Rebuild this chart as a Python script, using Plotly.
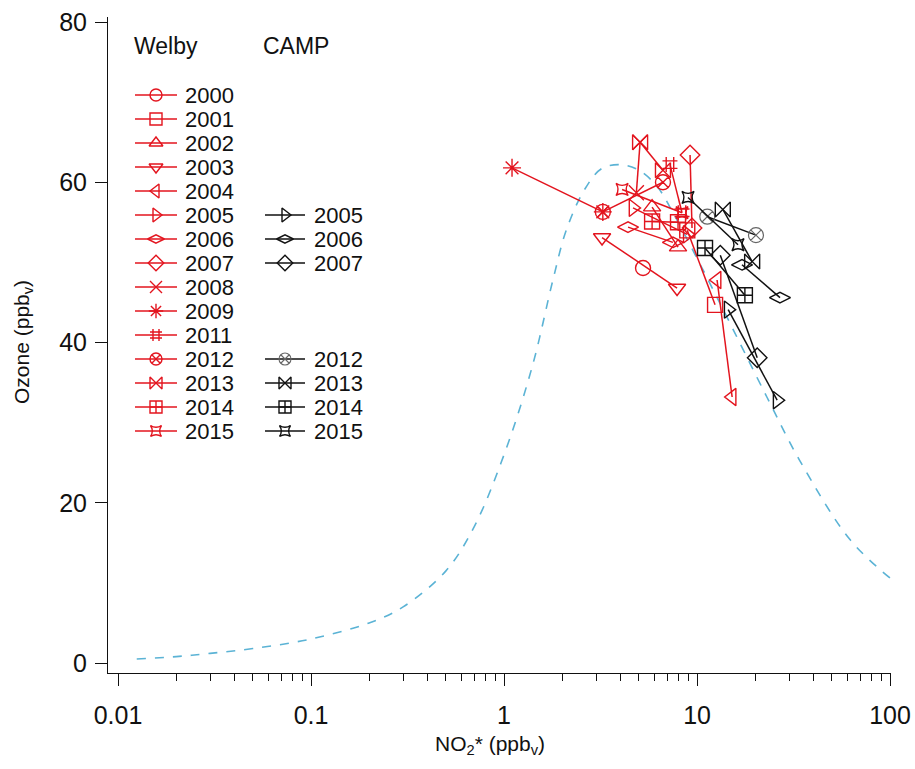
import plotly.graph_objects as go

# ---------------- data ----------------
# model curve (dashed blue)
curve_x = [0.0125, 0.02, 0.03, 0.05, 0.1, 0.2, 0.3, 0.5, 0.7, 1.0, 1.4, 1.8, 2.1, 2.6, 3.2, 4.0,
           5.0, 6.2, 7.2, 10.0, 13.6, 23.0, 34.0, 62.0, 100.0]
curve_y = [0.5, 0.8, 1.2, 1.8, 3.0, 5.0, 7.0, 11.5, 17.0, 26.0, 37.0, 48.0, 54.0, 59.0, 61.7, 62.2,
           61.5, 59.5, 57.0, 50.5, 44.2, 33.2, 25.3, 15.4, 10.6]

# Welby (red)
welby_years = ["2000", "2001", "2002", "2003", "2004", "2005", "2006", "2007",
               "2008", "2009", "2011", "2012", "2013", "2014", "2015"]
welby_symbols = ["circle-open", "square-open", "triangle-up-open", "triangle-down-open",
                 "triangle-left-open", "triangle-right-open", "diamond-wide-open", "diamond-open",
                 "x-thin-open", "asterisk-open", "hash-open", "circle-x-open", "bowtie-open",
                 "square-cross-open", "star-square-open"]
welby_no2 = [[5.25], [8.9, 12.4], [5.85, 7.97], [3.22, 7.88], [12.7, 15.2], [4.66, 8.9],
             [4.39, 7.5], [9.2, 9.42], [4.85, 5.07], [1.10, 3.25], [7.24, 8.36], [3.25, 6.66],
             [5.07, 6.66], [5.85, 7.97], [4.09, 8.36]]
welby_o3 = [[49.3], [54.0, 44.7], [56.9, 51.9], [53.1, 46.8], [47.8, 33.2], [56.8, 53.5],
            [54.4, 52.5], [63.4, 54.3], [58.7, 65.0], [61.8, 56.3], [62.2, 56.2], [56.3, 60.0],
            [65.0, 61.5], [55.1, 55.0], [59.1, 56.2]]

# CAMP (black)
camp_years = ["2005", "2006", "2007", "2012", "2013", "2014", "2015"]
camp_symbols = ["triangle-right-open", "diamond-wide-open", "diamond-open", "circle-x-open",
                "bowtie-open", "square-cross-open", "star-square-open"]
camp_no2 = [[14.5, 26.0], [17.1, 26.9], [13.2, 20.5], [11.3, 20.2], [13.6, 19.3], [11.0, 17.7],
            [8.98, 16.3]]
camp_o3 = [[44.1, 32.8], [49.7, 45.6], [50.9, 38.1], [55.7, 53.4], [56.6, 50.1], [51.8, 45.9],
           [58.1, 52.2]]

x_tick_vals = [0.01, 0.1, 1, 10, 100]
x_tick_text = ["0.01", "0.1", "1", "10", "100"]
y_tick_vals = [0, 20, 40, 60, 80]

# ---------------- style ----------------
RED = "#e3141e"
BLACK = "#111111"
GRAY = "#666666"
BLUE = "#5bb3d5"
FONT = "Arial, Liberation Sans, sans-serif"

# plot area in pixels
L, R, T, B = 108, 891, 17, 673
W, H = 915, 769
X_LO, X_HI = -2.052, 2.005


def msize(sym, big):
    if sym == "star-square-open":
        return 11 if big else 10
    return 15 if big else 12


fig = go.Figure()

fig.add_trace(go.Scatter(x=curve_x, y=curve_y, mode="lines",
                         line=dict(color=BLUE, width=1.6, dash="dash"),
                         line_shape="spline", showlegend=False, hoverinfo="skip"))

for yr, sym, xs, ys in zip(welby_years, welby_symbols, welby_no2, welby_o3):
    fig.add_trace(go.Scatter(x=xs, y=ys, mode="lines+markers", name="Welby " + yr,
                             line=dict(color=RED, width=1.5),
                             marker=dict(symbol=sym, size=msize(sym, True), color=RED,
                                         line=dict(color=RED, width=1.4)),
                             showlegend=False))

for yr, sym, xs, ys in zip(camp_years, camp_symbols, camp_no2, camp_o3):
    mc = GRAY if yr == "2012" else BLACK
    fig.add_trace(go.Scatter(x=xs, y=ys, mode="lines+markers", name="CAMP " + yr,
                             line=dict(color=BLACK, width=1.5),
                             marker=dict(symbol=sym, size=msize(sym, True), color=mc,
                                         line=dict(color=mc, width=1.2 if yr == "2012" else 1.4)),
                             showlegend=False))

# ---------------- hand-made legend (pixel overlay axes) ----------------
row0, row_step = 95, 24.0
wx0, wx1, wtx = 135, 177, 183
cx0, cx1, ctx = 265, 305, 312
LEG_FONT = 22

annotations = []
for i, (yr, sym) in enumerate(zip(welby_years, welby_symbols)):
    yy = row0 + row_step * i
    fig.add_trace(go.Scatter(x=[wx0, wx1], y=[yy, yy], mode="lines", xaxis="x2", yaxis="y2",
                             line=dict(color=RED, width=1.5), showlegend=False, hoverinfo="skip"))
    fig.add_trace(go.Scatter(x=[(wx0 + wx1) / 2], y=[yy], mode="markers", xaxis="x2", yaxis="y2",
                             marker=dict(symbol=sym, size=msize(sym, False), color=RED,
                                         line=dict(color=RED, width=1.4)),
                             showlegend=False, hoverinfo="skip"))
    annotations.append(dict(x=wtx, y=yy, xref="x2", yref="y2", text=yr, showarrow=False,
                            xanchor="left", yanchor="middle",
                            font=dict(size=LEG_FONT, color=BLACK, family=FONT)))
    if yr in camp_years:
        j = camp_years.index(yr)
        mc = GRAY if yr == "2012" else BLACK
        fig.add_trace(go.Scatter(x=[cx0, cx1], y=[yy, yy], mode="lines", xaxis="x2", yaxis="y2",
                                 line=dict(color=BLACK, width=1.5), showlegend=False, hoverinfo="skip"))
        fig.add_trace(go.Scatter(x=[(cx0 + cx1) / 2], y=[yy], mode="markers", xaxis="x2", yaxis="y2",
                                 marker=dict(symbol=camp_symbols[j], size=msize(camp_symbols[j], False),
                                             color=mc, line=dict(color=mc, width=1.1 if yr == "2012" else 1.4)),
                                 showlegend=False, hoverinfo="skip"))
        annotations.append(dict(x=ctx, y=yy, xref="x2", yref="y2", text=yr, showarrow=False,
                                xanchor="left", yanchor="middle",
                                font=dict(size=LEG_FONT, color=BLACK, family=FONT)))

annotations.append(dict(x=132, y=46, xref="x2", yref="y2", text="Welby", showarrow=False,
                        xanchor="left", yanchor="middle", font=dict(size=23, color=BLACK, family=FONT)))
annotations.append(dict(x=261, y=46, xref="x2", yref="y2", text="CAMP", showarrow=False,
                        xanchor="left", yanchor="middle", font=dict(size=23, color=BLACK, family=FONT)))

# axis titles
pw, ph = R - L, B - T
annotations.append(dict(x=(490 - L) / pw, y=(B - 745) / ph, xref="paper", yref="paper",
                        text="NO<sub>2</sub>* (ppb<sub>v</sub>)", showarrow=False,
                        xanchor="center", yanchor="middle", font=dict(size=21, color=BLACK, family=FONT)))
annotations.append(dict(x=(23 - L) / pw, y=(B - 342) / ph, xref="paper", yref="paper",
                        text="Ozone (ppb<sub>v</sub>)", showarrow=False, textangle=-90,
                        xanchor="center", yanchor="middle", font=dict(size=21, color=BLACK, family=FONT)))

minor_vals = []
for dec in [0.01, 0.1, 1, 10]:
    for k in range(2, 10):
        minor_vals.append(dec * k)

px_per_unit = (663 - 22) / 80.0
y_lo = -(B - 663) / px_per_unit
y_hi = (663 - T) / px_per_unit

fig.update_layout(
    template="none",
    width=W, height=H,
    margin=dict(l=L, r=W - R, t=T, b=H - B, autoexpand=False),
    paper_bgcolor="white", plot_bgcolor="white",
    font=dict(family=FONT, size=20, color=BLACK),
    showlegend=False,
    annotations=annotations,
    xaxis=dict(type="log", range=[X_LO, X_HI], showline=True, linecolor=BLACK, linewidth=1,
               automargin=False,
               ticks="outside", ticklen=12, tickwidth=1, tickcolor=BLACK,
               tickmode="array", tickvals=x_tick_vals, ticktext=x_tick_text,
               ticklabelstandoff=8,
               minor=dict(tickmode="array", tickvals=minor_vals, ticks="outside", ticklen=7,
                          tickwidth=1, tickcolor=BLACK, showgrid=False),
               showgrid=False, zeroline=False, tickfont=dict(size=25)),
    yaxis=dict(range=[y_lo, y_hi], showline=True, linecolor=BLACK, linewidth=1,
               automargin=False,
               ticks="outside", ticklen=12, tickwidth=1, tickcolor=BLACK,
               tickmode="array", tickvals=y_tick_vals, ticklabelstandoff=3,
               showgrid=False, zeroline=False, tickfont=dict(size=25)),
    xaxis2=dict(overlaying="x", range=[L, R], visible=False, fixedrange=True, automargin=False),
    yaxis2=dict(overlaying="y", range=[B, T], visible=False, fixedrange=True, automargin=False),
)

fig.write_html("out.html")
